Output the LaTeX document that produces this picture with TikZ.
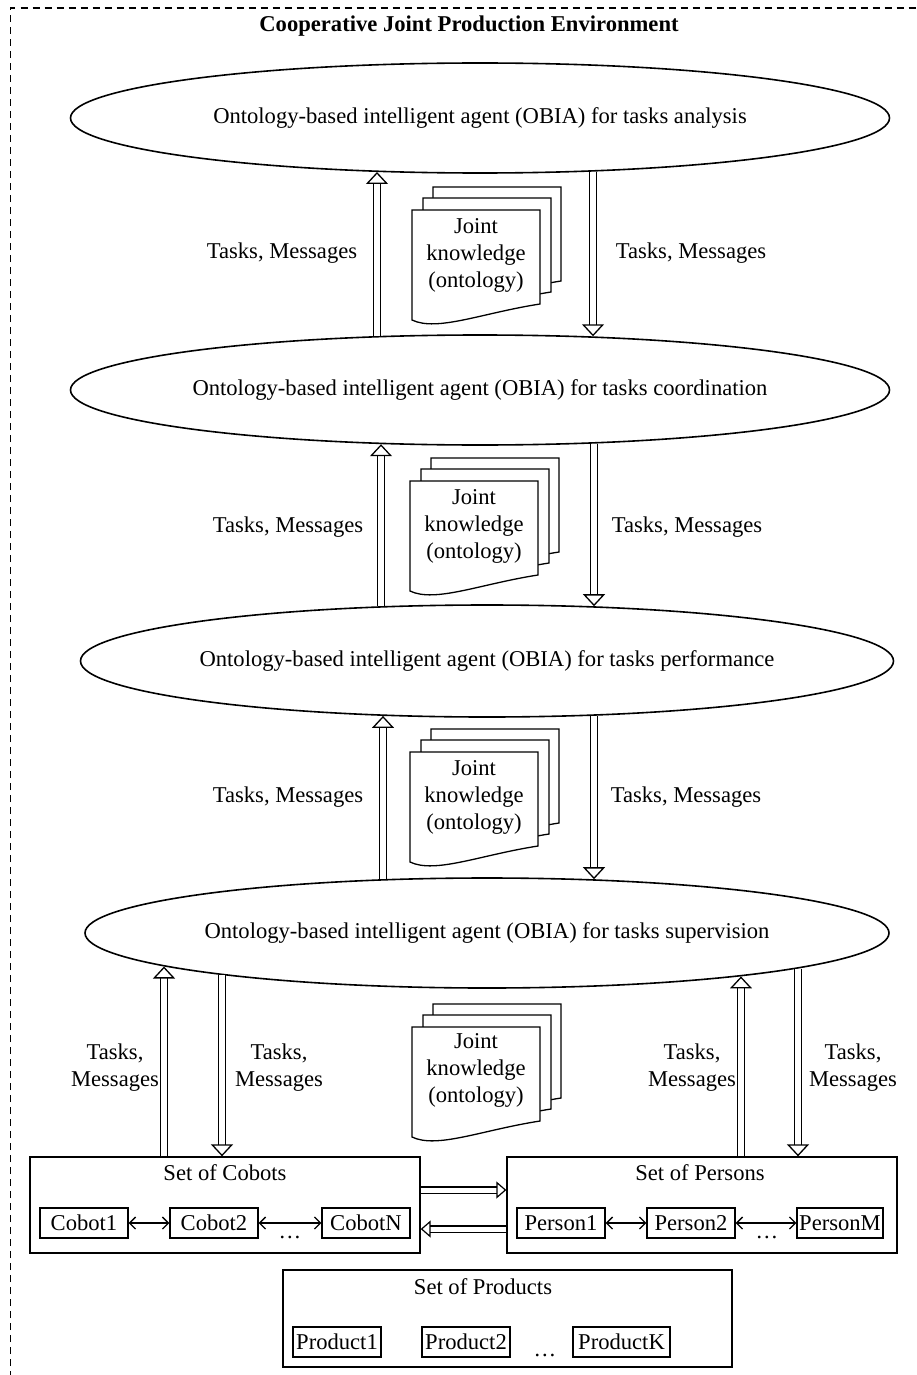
\documentclass[tikz,border=0pt]{standalone}
\usepackage{fontspec}
\setmainfont{Liberation Serif}
\usetikzlibrary{arrows.meta,shapes.geometric,calc}
\begin{document}
\begin{tikzpicture}[x=1pt,y=-1pt,
  every node/.style={font=\fontsize{22.6}{27}\selectfont},
  agent/.style={ellipse, draw, line width=1.6pt, inner sep=0pt},
  lbl/.style={align=center},
  dbl/.style={draw, double, double distance=6pt, line width=1.3pt,
    -{Triangle[open, width=22pt, length=12pt, line width=1.3pt]}},
  dblh/.style={draw, double, double distance=5pt, line width=1.2pt,
    -{Triangle[open, width=17pt, length=10pt, line width=1.2pt]}},
  setbox/.style={draw, line width=1.3pt, inner sep=0pt},
  item/.style={draw, line width=1.3pt, inner sep=1pt, minimum width=88pt, minimum height=30pt},
  prod/.style={draw, line width=2pt, inner sep=1pt, minimum width=88pt, minimum height=30pt},
  link/.style={line width=1.3pt, {Straight Barb[length=6pt,width=12pt]}-{Straight Barb[length=6pt,width=12pt]}},
  page/.style={draw, fill=white, line width=1.3pt},
  docpage/.pic={
    \draw[page] (0,0) -- (128,0) -- (128,94) .. controls (70,103) and (25,122) .. (0,110) -- cycle;
  }
]
\useasboundingbox (0,0) rectangle (917,1375);
% frame
\draw[line width=1.2pt, dash pattern=on 7pt off 5pt] (10.5,1390) |- (930,8);
\node[font=\bfseries\fontsize{22.6}{27}\selectfont] (title) at (469,26) {Cooperative Joint Production Environment};

% agents
\node[agent, minimum width=819pt, minimum height=110pt] (e1) at (480,118) {Ontology-based intelligent agent (OBIA) for tasks analysis};
\node[agent, minimum width=819pt, minimum height=110pt] (e2) at (480,390) {Ontology-based intelligent agent (OBIA) for tasks coordination};
\node[agent, minimum width=804pt, minimum height=112pt] (e3) at (487,661) {Ontology-based intelligent agent (OBIA) for tasks performance};
\node[agent, minimum width=804pt, minimum height=110pt] (e4) at (487,933) {Ontology-based intelligent agent (OBIA) for tasks supervision};

% knowledge stacks
\pic at (433,187) {docpage};
\pic at (423,198) {docpage};
\pic at (412,210) {docpage};
\node[lbl] (k1) at (476,255) {Joint\\knowledge\\(ontology)};

\pic at (431,458) {docpage};
\pic at (421,469) {docpage};
\pic at (410,481) {docpage};
\node[lbl] (k2) at (474,526) {Joint\\knowledge\\(ontology)};

\pic at (431,729) {docpage};
\pic at (421,740) {docpage};
\pic at (410,752) {docpage};
\node[lbl] (k3) at (474,797) {Joint\\knowledge\\(ontology)};

\pic at (433,1004) {docpage};
\pic at (423,1015) {docpage};
\pic at (412,1027) {docpage};
\node[lbl] (k4) at (476,1070) {Joint\\knowledge\\(ontology)};

% border points of the agents where connectors attach
\coordinate (a1u) at ($(e1.center)+(-103,54)$);
\coordinate (a1d) at ($(e1.center)+(113,53.7)$);
\coordinate (a2u) at ($(e2.center)+(-103,-54)$);
\coordinate (a2d) at ($(e2.center)+(113,-53.7)$);
\coordinate (b2u) at ($(e2.center)+(-99,54.2)$);
\coordinate (b2d) at ($(e2.center)+(114,53.6)$);
\coordinate (b3u) at ($(e3.center)+(-106,-54.8)$);
\coordinate (b3d) at ($(e3.center)+(107,-54.8)$);
\coordinate (c3u) at ($(e3.center)+(-104,54.9)$);
\coordinate (c3d) at ($(e3.center)+(107,54.8)$);
\coordinate (c4u) at ($(e4.center)+(-104,-53.9)$);
\coordinate (c4d) at ($(e4.center)+(107,-53.8)$);
\coordinate (s1) at ($(e4.center)+(-323,33.5)$);
\coordinate (s2) at ($(e4.center)+(-265,42.2)$);
\coordinate (s3) at ($(e4.center)+(254,43.4)$);
\coordinate (s4) at ($(e4.center)+(311,35.6)$);

% arrows between agents
\draw[dbl] (a2u) -- (a1u);
\draw[dbl] (a1d) -- (a2d);
\draw[dbl] (b3u) -- (b2u);
\draw[dbl] (b2d) -- (b3d);
\draw[dbl] (c4u) -- (c3u);
\draw[dbl] (c3d) -- (c4d);

\node (t1l) at (282,253) {Tasks, Messages};
\node (t1r) at (691,253) {Tasks, Messages};
\node (t2l) at (288,527) {Tasks, Messages};
\node (t2r) at (687,527) {Tasks, Messages};
\node (t3l) at (288,797) {Tasks, Messages};
\node (t3r) at (686,797) {Tasks, Messages};

% sets
\node[setbox, minimum width=390pt, minimum height=96pt] (cobots) at (225,1205) {};
\node (cobotsT) at (225,1173) {Set of Cobots};
\node[item] (c1) at (84,1223) {Cobot1};
\node[item] (c2) at (214,1223) {Cobot2};
\node[item] (cN) at (366,1223) {CobotN};
\node[anchor=base, inner sep=0pt] (cdots) at (290,1238) {\ldots};
\draw[link] (c1) -- (c2);
\draw[link] (c2) -- (cN);

\node[setbox, minimum width=390pt, minimum height=96pt] (persons) at (702,1205) {};
\node (personsT) at (700,1173) {Set of Persons};
\node[item] (p1) at (561,1223) {Person1};
\node[item] (p2) at (691,1223) {Person2};
\node[item, minimum width=86pt] (pM) at (840,1223) {PersonM};
\node[anchor=base, inner sep=0pt] (pdots) at (767,1238) {\ldots};
\draw[link] (p1) -- (p2);
\draw[link] (p2) -- (pM);

\node[setbox, minimum width=449pt, minimum height=97pt] (products) at (507.5,1318.5) {};
\node (productsT) at (483,1287) {Set of Products};
\node[prod] (r1) at (337,1342) {Product1};
\node[prod] (r2) at (466,1342) {Product2};
\node[prod, minimum width=97pt] (rK) at (621.5,1342) {ProductK};
\node[anchor=base, inner sep=0pt] (rdots) at (545,1356) {\ldots};

% arrows supervision <-> sets
\draw[dbl] (s1 |- cobots.north) -- (s1);
\draw[dbl] (s2) -- (s2 |- cobots.north);
\draw[dbl] (s3 |- persons.north) -- (s3);
\draw[dbl] (s4) -- (s4 |- persons.north);

\node[lbl] (t4a) at (115,1068) {Tasks,\\Messages};
\node[lbl] (t4b) at (279,1068) {Tasks,\\Messages};
\node[lbl] (t4c) at (692,1068) {Tasks,\\Messages};
\node[lbl] (t4d) at (853,1068) {Tasks,\\Messages};

% between cobots and persons
\draw[dblh] ([yshift=15pt]cobots.east) -- ([yshift=15pt]persons.west);
\draw[dblh] ([yshift=-24pt]persons.west) -- ([yshift=-24pt]cobots.east);
\end{tikzpicture}
\end{document}
